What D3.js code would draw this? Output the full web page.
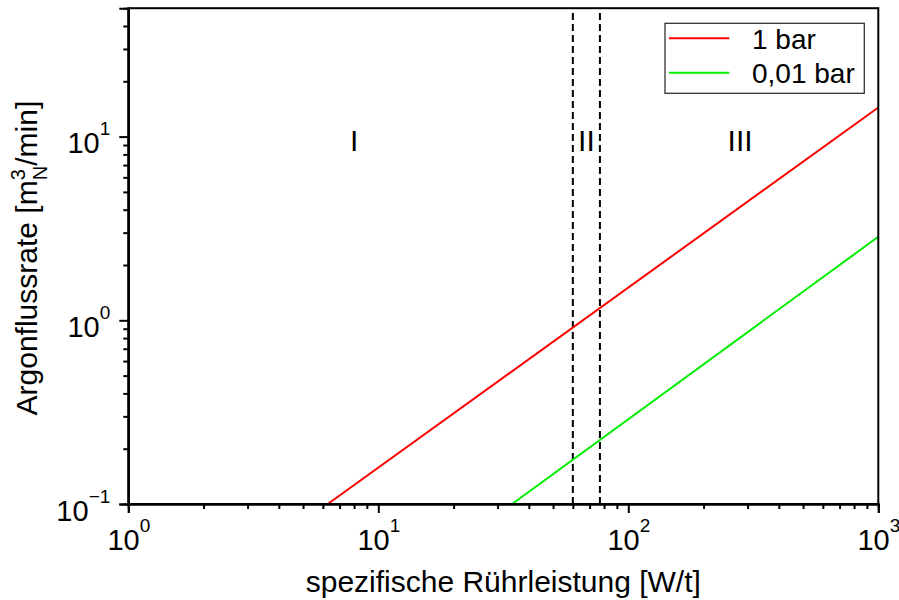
<!DOCTYPE html>
<html>
<head>
<meta charset="utf-8">
<script src="https://cdn.jsdelivr.net/npm/d3@7"></script>
<style>
  html, body { margin: 0; padding: 0; background: #fff; }
  svg { display: block; font-family: "Liberation Sans", Arial, sans-serif; }
</style>
</head>
<body>
<svg id="chart" width="899" height="600"></svg>
<script>
// Specific stirring power [W/t] vs. argon flow rate [m_N^3/min], log-log
const seriesNames = ["1 bar", "0,01 bar"];
const seriesColors = ["#ff0000", "#00ee00"];
const powerRed = [6.28, 1000];
const flowRed = [0.1, 14.4];
const powerGreen = [34.3, 1000];
const flowGreen = [0.1, 2.85];
const regimeBounds = [60, 77];
const regimeLabels = ["I", "II", "III"];
const regimeLabelX = [8, 68, 280];
const regimeLabelY = 10;
const xMajor = [1, 10, 100, 1000];
const xExp = ["0", "1", "2", "3"];
const yMajor = [0.1, 1, 10];
const yExp = ["\u22121", "0", "1"];
const xDomain = [1, 1000];
const yDomain = [0.1, 50];
const xTitle = "spezifische Rührleistung [W/t]";

const W = 899, H = 600;
const margin = { left: 128.3, right: 20.7, top: 8.2, bottom: 96 };
const svg = d3.select("#chart");

const x = d3.scaleLog().domain(xDomain).range([margin.left, W - margin.right]);
const y = d3.scaleLog().domain(yDomain).range([H - margin.bottom, margin.top]);

// minor tick positions: 2..9 in each decade inside the domain
function minors(domain) {
  const out = [];
  for (let e = Math.floor(Math.log10(domain[0])); e <= Math.ceil(Math.log10(domain[1])); e++) {
    for (let m = 2; m <= 9; m++) {
      const v = m * Math.pow(10, e);
      if (v > domain[0] && v < domain[1]) out.push(v);
    }
  }
  return out;
}

const plot = svg.append("g");

// regime boundaries
plot.selectAll("line.bound").data(regimeBounds).join("line")
  .attr("x1", d => x(d)).attr("x2", d => x(d))
  .attr("y1", y(yDomain[0])).attr("y2", y(yDomain[1]))
  .attr("stroke", "#000").attr("stroke-width", 2).attr("stroke-dasharray", "7,4");

// regime labels
plot.selectAll("text.regime").data(regimeLabels).join("text")
  .attr("x", (d, i) => x(regimeLabelX[i])).attr("y", y(regimeLabelY))
  .attr("dy", "0.48em").attr("text-anchor", "middle")
  .attr("font-size", 30).text(d => d);

// series lines
const series = [
  { name: seriesNames[0], color: seriesColors[0], xs: powerRed, ys: flowRed },
  { name: seriesNames[1], color: seriesColors[1], xs: powerGreen, ys: flowGreen }
];
const line = d3.line().x(d => x(d[0])).y(d => y(d[1]));
plot.selectAll("path.series").data(series).join("path")
  .attr("fill", "none").attr("stroke", d => d.color).attr("stroke-width", 2)
  .attr("d", d => line(d.xs.map((v, i) => [v, d.ys[i]])));

// frame
svg.append("rect")
  .attr("x", margin.left).attr("y", margin.top)
  .attr("width", W - margin.left - margin.right)
  .attr("height", H - margin.top - margin.bottom)
  .attr("fill", "none").attr("stroke", "#000").attr("stroke-width", 2);

// x axis
const gxMinor = svg.append("g").attr("transform", `translate(0,${y(yDomain[0])})`)
  .call(d3.axisBottom(x).tickValues(minors(xDomain)).tickSize(5).tickFormat(""));
const gx = svg.append("g").attr("transform", `translate(0,${y(yDomain[0])})`)
  .call(d3.axisBottom(x).tickValues(xMajor).tickSize(9).tickFormat(""));
[gx, gxMinor].forEach(g => {
  g.select(".domain").attr("stroke-width", 2);
  g.selectAll(".tick line").attr("stroke-width", 2);
});
const xl = gx.selectAll(".tick").append("text")
  .attr("y", 46).attr("fill", "#000").attr("font-size", 29).attr("text-anchor", "middle");
xl.append("tspan").text("10");
xl.append("tspan").attr("dy", -18).attr("font-size", 19).text((d, i) => xExp[i]);

// y axis
const gyMinor = svg.append("g").attr("transform", `translate(${x(xDomain[0])},0)`)
  .call(d3.axisLeft(y).tickValues(minors(yDomain)).tickSize(5).tickFormat(""));
const gy = svg.append("g").attr("transform", `translate(${x(xDomain[0])},0)`)
  .call(d3.axisLeft(y).tickValues(yMajor).tickSize(9).tickFormat(""));
[gy, gyMinor].forEach(g => {
  g.select(".domain").attr("stroke-width", 2);
  g.selectAll(".tick line").attr("stroke-width", 2);
});
const yl = gy.selectAll(".tick").append("text")
  .attr("x", -18).attr("y", 16).attr("fill", "#000").attr("font-size", 29).attr("text-anchor", "end");
yl.append("tspan").text("10");
yl.append("tspan").attr("dy", -18).attr("font-size", 19).text((d, i) => yExp[i]);

// axis titles
svg.append("text")
  .attr("x", (x.range()[0] + x.range()[1]) / 2).attr("y", 592)
  .attr("text-anchor", "middle").attr("font-size", 30).text(xTitle);

const yt = svg.append("text")
  .attr("transform", `translate(37,${(y.range()[0] + y.range()[1]) / 2 + 2}) rotate(-90)`)
  .attr("text-anchor", "middle").attr("font-size", 30);
yt.append("tspan").text("Argonflussrate [m");
yt.append("tspan").attr("font-size", 20).attr("dy", -12).text("3");
yt.append("tspan").attr("font-size", 20).attr("dx", -11).attr("dy", 22).text("N");
yt.append("tspan").attr("dy", -10).text("/min]");

// legend
const lg = svg.append("g");
lg.append("rect").attr("x", 665).attr("y", 23.3).attr("width", 199.3).attr("height", 70)
  .attr("fill", "#fff").attr("stroke", "#333").attr("stroke-width", 1.3);
const items = lg.selectAll("g.item").data(series).join("g")
  .attr("transform", (d, i) => `translate(0,${38.3 + i * 34.4})`);
items.append("line").attr("x1", 669).attr("x2", 729.3)
  .attr("stroke", d => d.color).attr("stroke-width", 2);
items.append("text").attr("x", 752).attr("y", 10.5).attr("font-size", 28).text(d => d.name);
</script>
</body>
</html>
